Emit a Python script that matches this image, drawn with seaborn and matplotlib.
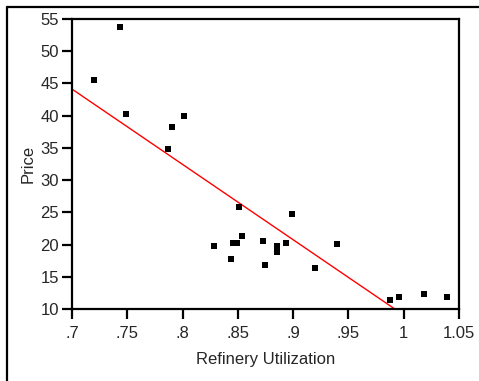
import matplotlib
matplotlib.use("Agg")
import matplotlib.pyplot as plt
from matplotlib.lines import Line2D
import numpy as np
import pandas as pd
import seaborn as sns

utilization = [0.720, 0.743, 0.749, 0.787, 0.790, 0.8016, 0.828, 0.844, 0.846, 0.849,
               0.851, 0.854, 0.873, 0.8745, 0.885, 0.885, 0.8935, 0.899, 0.920, 0.940,
               0.988, 0.9955, 1.0186, 1.039]
price = [45.5, 53.7, 40.3, 34.8, 38.2, 40.0, 19.8, 17.8, 20.3, 20.3,
         25.8, 21.3, 20.55, 16.8, 19.8, 18.85, 20.3, 24.8, 16.4, 20.1,
         11.35, 11.9, 12.3, 11.9]
x_ticks = [0.7, 0.75, 0.8, 0.85, 0.9, 0.95, 1.0, 1.05]
x_ticklabels = [".7", ".75", ".8", ".85", ".9", ".95", "1", "1.05"]
y_ticks = [10, 15, 20, 25, 30, 35, 40, 45, 50, 55]

df = pd.DataFrame({"Refinery Utilization": utilization, "Price": price})

sns.set_style("white")
plt.rcParams["font.family"] = ["Liberation Sans", "DejaVu Sans"]

fig = plt.figure(figsize=(4.79, 3.81), dpi=100)
ax = fig.add_axes([0.1503, 0.189, 0.8079, 0.7611])
ax.set_xlim(0.7, 1.05)
ax.set_ylim(10, 55)

sns.regplot(data=df, x="Refinery Utilization", y="Price", ax=ax, ci=None,
            truncate=False, marker="s",
            scatter_kws=dict(s=13, color="black", linewidths=0, alpha=1, zorder=3),
            line_kws=dict(color="red", lw=1.0, zorder=2))
ax.set_xlim(0.7, 1.05)
ax.set_ylim(10, 55)

ax.set_xticks(x_ticks)
ax.set_xticklabels(x_ticklabels)
ax.set_yticks(y_ticks)
for s in ax.spines.values():
    s.set_visible(True)
    s.set_linewidth(1.6)
    s.set_color("black")
ax.tick_params(axis="both", direction="out", length=7.5, width=1.6, color="black",
               labelsize=12, left=True, bottom=True)
ax.tick_params(axis="x", pad=5)
ax.tick_params(axis="y", pad=2)
ax.set_xlabel("Refinery Utilization", fontsize=12, labelpad=8)
ax.set_ylabel("Price", fontsize=12, labelpad=3)

fig.add_artist(Line2D([6.5/479, 6.5/479], [0, 1 - 7/381], transform=fig.transFigure,
                      color="black", lw=1.6))
fig.add_artist(Line2D([6.5/479, 1], [1 - 7/381, 1 - 7/381], transform=fig.transFigure,
                      color="black", lw=1.6))

fig.savefig("out.png", dpi=100)
